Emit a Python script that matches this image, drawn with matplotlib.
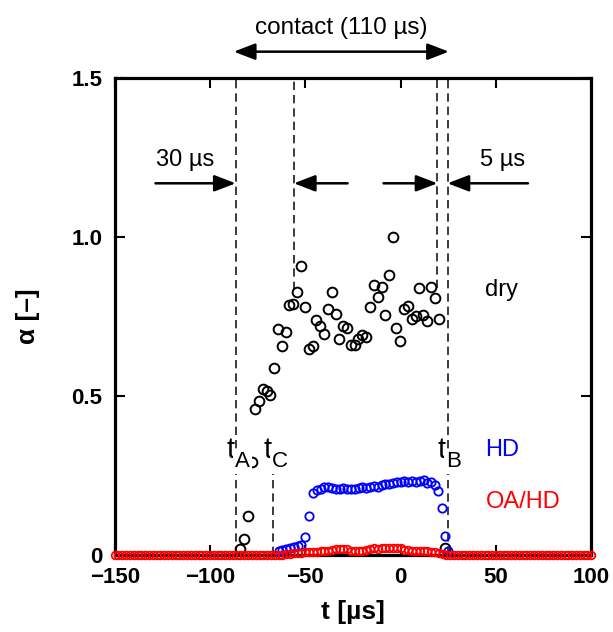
import numpy as np
import matplotlib
matplotlib.use("Agg")
import matplotlib.pyplot as plt

plt.rcParams['font.family'] = ['Liberation Sans', 'DejaVu Sans']

#input data
dry_t = [-84.3, -82.2, -79.9, -77.8, -76.4, -74.1, -72.2, -70.3, -68.4, -66.4,
         -64.2, -62.2, -60.1, -58.4, -56.3, -54.4, -52.3, -50.2, -48.3, -46.2,
         -44.3, -42.3, -40.2, -38.1, -36.0, -34.1, -32.2, -30.3, -28.2, -26.2,
         -24.1, -22.2, -20.1, -18.0, -16.1, -14.0, -12.1, -10.0, -8.1, -6.0,
         -4.0, -2.3, -0.2, 1.6, 3.7, 5.8, 7.9, 9.8, 11.9, 14.0,
         15.9, 18.0, 19.9, 23.2]
dry_a = [0.017, 0.048, 0.122, 0.29, 0.457, 0.483, 0.52, 0.516, 0.501, 0.588,
         0.71, 0.656, 0.701, 0.784, 0.789, 0.827, 0.909, 0.779, 0.647, 0.655,
         0.738, 0.718, 0.693, 0.772, 0.825, 0.758, 0.678, 0.718, 0.714, 0.66,
         0.66, 0.679, 0.692, 0.686, 0.78, 0.848, 0.81, 0.841, 0.753, 0.881,
         0.999, 0.712, 0.671, 0.774, 0.782, 0.741, 0.751, 0.839, 0.755, 0.735,
         0.843, 0.808, 0.74, 0.02]

hd_t = [-64, -62, -60, -58, -56, -54, -52, -50, -48, -46,
        -44, -42, -40, -38, -36, -34, -32, -30, -28, -26,
        -24, -22, -20, -18, -16, -14, -12, -10, -8, -6,
        -4, -2, 0, 2, 4, 6, 8, 10, 12, 14,
        16, 18, 19.5, 21.5, 23.5, 25]
hd_a = [0.012, 0.016, 0.019, 0.021, 0.023, 0.026, 0.032, 0.055, 0.122, 0.193,
        0.205, 0.208, 0.212, 0.214, 0.211, 0.208, 0.207, 0.209, 0.206, 0.208,
        0.206, 0.209, 0.212, 0.209, 0.212, 0.215, 0.214, 0.218, 0.221, 0.223,
        0.226, 0.228, 0.230, 0.233, 0.229, 0.231, 0.230, 0.232, 0.234, 0.226,
        0.228, 0.220, 0.200, 0.148, 0.059, 0.013]

oa_t = np.arange(-150, 101, 2)
oa_a = [0, 0, 0, 0, 0, 0, 0, 0, 0, 0, 0, 0, 0, 0, 0,
        0, 0, 0, 0, 0, 0, 0, 0, 0, 0, 0, 0, 0, 0, 0,
        0, 0, 0, 0, 0, 0, 0, 0, 0, 0, 0, 0, 0, 0, 0,
        0.002, 0.003, 0.004, 0.005, 0.006, 0.007, 0.008, 0.009, 0.010, 0.011,
        0.012, 0.013, 0.015, 0.018, 0.019, 0.018, 0.017, 0.013, 0.011, 0.011,
        0.012, 0.016, 0.019, 0.020, 0.019, 0.020, 0.021, 0.020, 0.021, 0.022,
        0.020, 0.016, 0.014, 0.013, 0.013, 0.012, 0.012, 0.011, 0.010, 0.007,
        0.004, 0.001,
        0, 0, 0, 0, 0, 0, 0, 0, 0, 0, 0, 0, 0,
        0, 0, 0, 0, 0, 0, 0, 0, 0, 0, 0, 0, 0,
        0, 0, 0, 0, 0, 0, 0, 0, 0, 0, 0, 0, 0]

#event times
tA, tC, t2, t3, tB = -86.5, -67.0, -56.0, 19.3, 24.6
events = [('A', tA), ('C', tC), ('B', tB)]

xticks = [-150, -100, -50, 0, 50, 100]
xticklabels = ['\u2212150', '\u2212100', '\u221250', '0', '50', '100']
yticks = [0, 0.5, 1.0, 1.5]
yticklabels = ['0', '0.5', '1.0', '1.5']

fig = plt.figure(figsize=(6.13, 6.32), dpi=100)
ax = fig.add_axes([0.187, 0.1223, 0.7776, 0.7547])

#dashed marker lines
dash = dict(color='#1a1a1a', lw=1.2, dashes=(5, 3), zorder=2)
ax.plot([tA, tA], [0, 1.5], **dash)
ax.plot([tC, tC], [0, 0.265], **dash)
ax.plot([t2, t2], [0.832, 1.5], **dash)
ax.plot([t3, t3], [0.839, 1.5], **dash)
ax.plot([tB, tB], [0, 1.5], **dash)

#data
ax.plot(dry_t, dry_a, 'o', ms=7.0, mfc='none', mec='k', mew=1.4, zorder=3, clip_on=False)
ax.plot(hd_t, hd_a, 'o', ms=6.0, mfc='none', mec='#0000ff', mew=1.3, zorder=4, clip_on=False)
ax.plot(oa_t, oa_a, 'o', ms=5.5, mfc='none', mec='#ff0000', mew=1.3, zorder=5, clip_on=False)

ax.set_xlim(-150, 100)
ax.set_ylim(0, 1.5)
ax.set_xticks(xticks)
ax.set_xticklabels(xticklabels)
ax.set_yticks(yticks)
ax.set_yticklabels(yticklabels)
ax.tick_params(direction='in', length=7, width=1.5, top=True, right=True,
               labelsize=16, pad=9)
for lab in ax.get_xticklabels() + ax.get_yticklabels():
    lab.set_fontweight('bold')
for s in ax.spines.values():
    s.set_linewidth(2.3)

ax.set_xlabel('t [\u00b5s]', fontsize=19, fontweight='bold')
ax.set_ylabel('\u03b1 [\u2013]', fontsize=19, fontweight='bold')
ax.xaxis.set_label_coords(0.5, -0.095)
ax.yaxis.set_label_coords(-0.157, 0.5)

#event labels t_A, t_C, t_B
for sub, te in events:
    ax.text(te - 0.8, 0.304, 't', fontsize=21, ha='right', va='baseline', zorder=6,
            bbox=dict(boxstyle='square,pad=0.0', fc='white', ec='none'))
    ax.text(te - 0.5, 0.275, sub, fontsize=16, ha='left', va='baseline', zorder=6,
            bbox=dict(boxstyle='square,pad=0.1', fc='white', ec='none'))

ax.text(44.2, 0.832, 'dry', fontsize=17, ha='left', va='center')
ax.text(44.2, 0.329, 'HD', fontsize=17, ha='left', va='center', color='#0000ff')
ax.text(44.5, 0.167, 'OA/HD', fontsize=17, ha='left', va='center', color='#ff0000')

#arrows
arr = dict(arrowstyle='-|>,head_length=1.3,head_width=0.5', mutation_scale=10,
           lw=1.8, color='k', shrinkA=0, shrinkB=0)
ya = 1.168
ax.annotate('', xy=(tA, ya), xytext=(-128.6, ya), arrowprops=arr, zorder=7)
ax.annotate('', xy=(t2, ya), xytext=(-27.8, ya), arrowprops=arr, zorder=7)
ax.annotate('', xy=(t3, ya), xytext=(-9.0, ya), arrowprops=arr, zorder=7)
ax.annotate('', xy=(tB, ya), xytext=(66.8, ya), arrowprops=arr, zorder=7)
ax.text(-112.8, 1.24, '30 \u00b5s', fontsize=17, ha='center', va='center')
ax.text(53.5, 1.24, '5 \u00b5s', fontsize=17, ha='center', va='center')

#contact duration above the frame
arr2 = dict(arrowstyle='<|-|>,head_length=1.3,head_width=0.5', mutation_scale=10,
            lw=1.8, color='k', shrinkA=0, shrinkB=0)
ax.annotate('', xy=(tA - 1.0, 1.582), xytext=(tB + 0.7, 1.582), arrowprops=arr2,
            annotation_clip=False)
ax.text(-31.3, 1.656, 'contact (110 \u00b5s)', fontsize=17.5, ha='center', va='center',
        clip_on=False)

plt.savefig('out.png', dpi=100)
